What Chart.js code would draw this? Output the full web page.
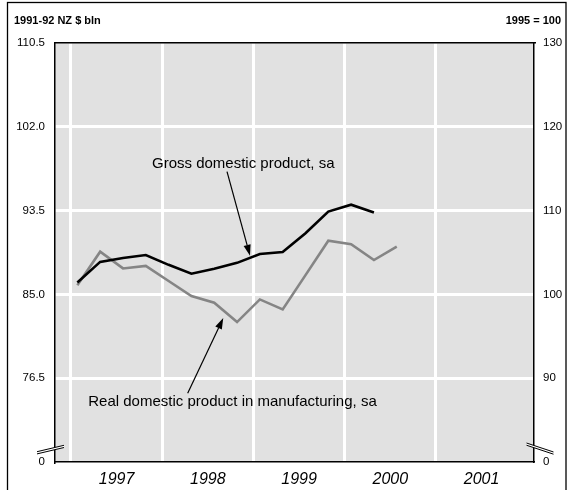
<!DOCTYPE html>
<html>
<head>
<meta charset="utf-8">
<script src="https://cdn.jsdelivr.net/npm/chart.js@4/dist/chart.umd.min.js"></script>
<style>
  html, body { margin: 0; padding: 0; background: #ffffff; }
  #wrap { width: 570px; height: 490px; position: relative; }
</style>
</head>
<body>
<div id="wrap"><canvas id="c" width="570" height="490"></canvas></div>
<script>
// ---------------- data ----------------
const QUARTERS = ['1997Q1','1997Q2','1997Q3','1997Q4','1998Q1','1998Q2','1998Q3','1998Q4',
                  '1999Q1','1999Q2','1999Q3','1999Q4','2000Q1','2000Q2','2000Q3'];
// Gross domestic product, sa (1991-92 NZ $ bln, left axis)
const GDP = [86.2, 88.3, 88.7, 89.0, 88.0, 87.1, 87.6, 88.2, 89.1, 89.3, 91.2, 93.4, 94.1, 93.3];
// Real domestic product in manufacturing, sa (1995 = 100, right axis)
const MANUF = [101.1, 105.1, 103.1, 103.4, 101.6, 99.8, 99.0, 96.7, 99.4, 98.2, 102.3, 106.4, 106.0, 104.1, 105.7];
const YEARS = [1997, 1998, 1999, 2000, 2001];
const LEFT_TICKS = [68, 76.5, 85, 93.5, 102, 110.5];
const RIGHT_TICKS = [80, 90, 100, 110, 120, 130];
const LEFT_TITLE = '1991-92 NZ $ bln';
const RIGHT_TITLE = '1995 = 100';
const GDP_LABEL = 'Gross domestic product, sa';
const MANUF_LABEL = 'Real domestic product in manufacturing, sa';

// ---------------- helpers ----------------
const Q_OFFSET = 0.07;
function qToYear(q) {
  const y = parseInt(q.slice(0, 4), 10);
  const n = parseInt(q.slice(5), 10);
  return y + (n - 1) / 4 + Q_OFFSET;
}
const X_MIN = 1996.825, X_MAX = 2002.074;
const FONT = "'Liberation Sans', Arial, Helvetica, sans-serif";

// annotation anchors in data units (x = year, y = left axis value)
const NOTES = [
  { text: GDP_LABEL, at: [1998.888, 97.83], from: [1998.71, 97.45], to: [1998.962, 88.92] },
  { text: MANUF_LABEL, at: [1998.77, 73.69], from: [1998.279, 74.98], to: [1998.669, 82.6] }
];

const bgPlugin = {
  id: 'bgPlugin',
  beforeDraw(chart) {
    const { ctx, chartArea: a } = chart;
    ctx.save();
    ctx.fillStyle = '#ffffff';
    ctx.fillRect(0, 0, chart.width, chart.height);
    ctx.fillStyle = '#e1e1e1';
    ctx.fillRect(a.left, a.top, a.right - a.left, a.bottom - a.top);
    ctx.restore();
  },
  afterDraw(chart) {
    const { ctx, chartArea: a, scales } = chart;
    ctx.save();
    // outer frame
    ctx.strokeStyle = '#000';
    ctx.lineWidth = 1.3;
    ctx.strokeRect(7.5, 2.5, 558.5, 600);
    // headers
    ctx.fillStyle = '#000';
    ctx.font = 'bold 11px ' + FONT;
    ctx.textBaseline = 'middle';
    ctx.textAlign = 'left';
    ctx.fillText(LEFT_TITLE, 14, 21);
    ctx.textAlign = 'right';
    ctx.fillText(RIGHT_TITLE, 561, 21);

    // axis breaks
    function brk(cx, cy, dir) {
      const hw = 13.5, dy = 3.2 * dir, gap = 2.2;
      ctx.fillStyle = '#ffffff';
      ctx.beginPath();
      ctx.moveTo(cx - hw, cy + dy - gap / 2 * 0 );
      ctx.moveTo(cx - hw, cy + dy);
      ctx.lineTo(cx + hw, cy - dy);
      ctx.lineTo(cx + hw, cy - dy + gap);
      ctx.lineTo(cx - hw, cy + dy + gap);
      ctx.closePath();
      ctx.fill();
      ctx.strokeStyle = '#000';
      ctx.lineWidth = 1;
      ctx.beginPath();
      ctx.moveTo(cx - hw, cy + dy); ctx.lineTo(cx + hw, cy - dy);
      ctx.moveTo(cx - hw, cy + dy + gap); ctx.lineTo(cx + hw, cy - dy + gap);
      ctx.stroke();
    }
    brk(a.left - 4.5, a.bottom - 13.5, 1);
    brk(a.right + 6, a.bottom - 14.5, -1.4);

    // annotations
    const xs = scales.x, ys = scales.y;
    ctx.font = '15px ' + FONT;
    ctx.textAlign = 'center';
    ctx.textBaseline = 'alphabetic';
    NOTES.forEach(n => {
      ctx.fillStyle = '#000';
      ctx.fillText(n.text, xs.getPixelForValue(n.at[0]), ys.getPixelForValue(n.at[1]));
      const x1 = xs.getPixelForValue(n.from[0]), y1 = ys.getPixelForValue(n.from[1]);
      const x2 = xs.getPixelForValue(n.to[0]), y2 = ys.getPixelForValue(n.to[1]);
      const ang = Math.atan2(y2 - y1, x2 - x1);
      const L = 11, W = 3.6;
      const bx = x2 - L * Math.cos(ang), by = y2 - L * Math.sin(ang);
      ctx.strokeStyle = '#000';
      ctx.lineWidth = 1.2;
      ctx.beginPath();
      ctx.moveTo(x1, y1);
      ctx.lineTo(bx, by);
      ctx.stroke();
      ctx.beginPath();
      ctx.moveTo(x2, y2);
      ctx.lineTo(bx + W * Math.sin(ang), by - W * Math.cos(ang));
      ctx.lineTo(bx - W * Math.sin(ang), by + W * Math.cos(ang));
      ctx.closePath();
      ctx.fill();
    });
    ctx.restore();
  }
};

const tickFont = { family: FONT, size: 11.5 };

new Chart(document.getElementById('c'), {
  type: 'line',
  data: {
    datasets: [
      {
        label: GDP_LABEL,
        data: GDP.map((v, i) => ({ x: qToYear(QUARTERS[i]), y: v })),
        xAxisID: 'x', yAxisID: 'y',
        borderColor: '#000000', borderWidth: 2.6, pointRadius: 0, tension: 0, fill: false
      },
      {
        label: MANUF_LABEL,
        data: MANUF.map((v, i) => ({ x: qToYear(QUARTERS[i]), y: v })),
        xAxisID: 'x', yAxisID: 'y2',
        borderColor: '#858585', borderWidth: 2.6, pointRadius: 0, tension: 0, fill: false
      }
    ]
  },
  options: {
    responsive: false,
    animation: false,
    devicePixelRatio: 1,
    layout: { padding: { top: 43, left: 0, right: 0, bottom: 0 } },
    plugins: { legend: { display: false }, tooltip: { enabled: false }, title: { display: false } },
    scales: {
      x: {
        type: 'linear', position: 'bottom', min: X_MIN, max: X_MAX,
        afterBuildTicks: s => { s.ticks = YEARS.map(y => ({ value: y + 0.5 })); },
        afterFit: s => { s.height = 28; },
        ticks: {
          callback: v => String(Math.floor(v)),
          font: { family: FONT, size: 16, style: 'italic' },
          color: '#000', padding: 8, maxRotation: 0, autoSkip: false
        },
        grid: { display: false, drawTicks: false },
        border: { display: true, color: '#000', width: 1.5 }
      },
      xg: {
        type: 'linear', position: 'top', min: X_MIN, max: X_MAX,
        afterBuildTicks: s => { s.ticks = YEARS.map(y => ({ value: y })); },
        afterFit: s => { s.height = 0; },
        ticks: { display: false },
        grid: { color: '#ffffff', lineWidth: 3, drawTicks: false },
        border: { display: true, color: '#000', width: 1.5 }
      },
      y: {
        type: 'linear', position: 'left', min: 68, max: 110.5,
        afterBuildTicks: s => { s.ticks = LEFT_TICKS.map(v => ({ value: v })); },
        afterFit: s => { s.width = 55; },
        ticks: {
          callback: v => (v === 68 ? '0' : Number(v).toFixed(1)),
          font: tickFont, color: '#000', padding: 10, autoSkip: false
        },
        grid: {
          color: c => (c.tick && (c.tick.value === 68 || c.tick.value === 110.5)) ? 'rgba(0,0,0,0)' : '#ffffff',
          lineWidth: 3, drawTicks: false
        },
        border: { display: true, color: '#000', width: 1.5 }
      },
      y2: {
        type: 'linear', position: 'right', min: 80, max: 130,
        afterBuildTicks: s => { s.ticks = RIGHT_TICKS.map(v => ({ value: v })); },
        afterFit: s => { s.width = 36; },
        ticks: {
          callback: v => (v === 80 ? '0' : String(v)),
          font: tickFont, color: '#000', padding: 9, autoSkip: false
        },
        grid: { display: false, drawTicks: false },
        border: { display: true, color: '#000', width: 1.5 }
      }
    }
  },
  plugins: [bgPlugin]
});
</script>
</body>
</html>
